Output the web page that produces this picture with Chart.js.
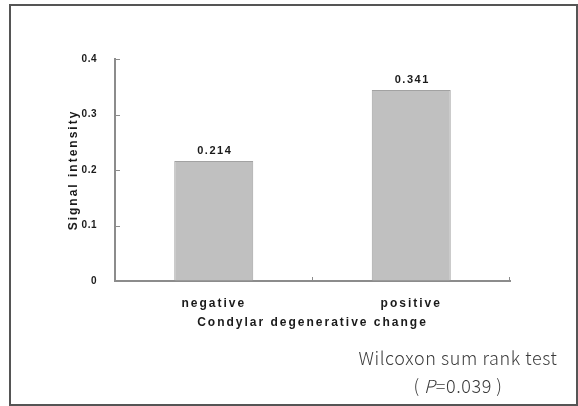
<!DOCTYPE html>
<html>
<head>
<meta charset="utf-8">
<script src="https://cdn.jsdelivr.net/npm/chart.js@4"></script>
<style>
  html, body { margin: 0; padding: 0; background: #fff; }
  #wrap { position: relative; width: 578px; height: 406px; overflow: hidden; }
  #c { position: absolute; left: 0; top: 0; }
  .note { position: absolute; font-family: "Noto Sans CJK KR", "Noto Sans", sans-serif; font-weight: 300; font-size: 18px; letter-spacing: 0.6px; color: #3a3a3a; white-space: nowrap; text-align: center; width: 260px; left: 328px; }
</style>
</head>
<body>
<div id="wrap">
  <canvas id="c" width="578" height="406"></canvas>
  <div class="note" style="top:344px;">Wilcoxon sum rank test</div>
  <div class="note" style="top:372px;">(&thinsp;<i>P</i>=0.039&thinsp;)</div>
</div>
<script>
// ---- data ----
const categories = ['negative', 'positive'];
const signalValues = [0.216, 0.344];
const valueLabels = ['0.214', '0.341'];
const yTicks = [0, 0.1, 0.2, 0.3, 0.4];
const xTitle = 'Condylar degenerative change';
const yTitle = 'Signal intensity';

const TEXT = '#1a1a1a';
const AXIS = '#8c8c8c';
const SPACING = '2px';
const FONT = '"Liberation Sans", Arial, sans-serif';

const decorPlugin = {
  id: 'decor',
  beforeUpdate(chart) { chart.ctx.letterSpacing = SPACING; },
  beforeDraw(chart) {
    const ctx = chart.ctx;
    ctx.letterSpacing = SPACING;
    const y = chart.scales.y;
    if (y && !y._wrappedLabels) {
      const orig = y.drawLabels;
      y.drawLabels = function (ca) {
        const c = this.ctx;
        const prev = c.letterSpacing;
        c.letterSpacing = '0.5px';
        orig.call(this, ca);
        c.letterSpacing = prev;
      };
      y._wrappedLabels = true;
    }
  },
  afterDatasetsDraw(chart) {
    const ctx = chart.ctx;
    const meta = chart.getDatasetMeta(0);
    ctx.save();
    ctx.letterSpacing = '1.5px';
    ctx.font = 'bold 11px ' + FONT;
    ctx.fillStyle = TEXT;
    ctx.textAlign = 'center';
    ctx.textBaseline = 'middle';
    meta.data.forEach((bar, i) => {
      ctx.fillText(valueLabels[i], bar.x + 1, bar.y - 10);
    });
    ctx.restore();
  },
  afterDraw(chart) {
    const ctx = chart.ctx;
    const area = chart.chartArea;
    const y = chart.scales.y, x = chart.scales.x;
    ctx.save();
    ctx.strokeStyle = AXIS;
    ctx.lineWidth = 1;
    y.ticks.forEach(t => {
      const py = Math.round(y.getPixelForValue(t.value)) + 0.5;
      ctx.beginPath();
      ctx.moveTo(area.left, py);
      ctx.lineTo(area.left + 5, py);
      ctx.stroke();
    });
    const bounds = [];
    for (let i = 0; i < categories.length - 1; i++) {
      bounds.push((x.getPixelForValue(i) + x.getPixelForValue(i + 1)) / 2);
    }
    bounds.push(area.right);
    bounds.forEach(bx => {
      const px = Math.round(bx) - 0.5;
      ctx.beginPath();
      ctx.moveTo(px, area.bottom);
      ctx.lineTo(px, area.bottom - 4);
      ctx.stroke();
    });
    ctx.strokeStyle = '#555';
    ctx.lineWidth = 2;
    ctx.strokeRect(10, 5, 567, 400);
    ctx.restore();
  }
};

new Chart(document.getElementById('c'), {
  type: 'bar',
  data: {
    labels: categories,
    datasets: [{
      data: signalValues,
      backgroundColor: '#c0c0c0',
      borderColor: '#a2a2a2',
      borderWidth: 1,
      categoryPercentage: 0.4,
      barPercentage: 1.0
    }]
  },
  options: {
    responsive: false,
    animation: false,
    devicePixelRatio: 1,
    layout: { padding: { top: 59, right: 68, bottom: 65, left: 60 } },
    plugins: { legend: { display: false }, tooltip: { enabled: false } },
    scales: {
      x: {
        grid: { display: true, drawOnChartArea: false, drawTicks: false, offset: true, color: 'transparent' },
        border: { display: true, color: AXIS, width: 2 },
        ticks: { color: TEXT, padding: 15, font: { family: FONT, size: 12, weight: 'bold' } },
        title: { display: true, text: xTitle, color: TEXT, padding: { top: 0, bottom: 11 }, font: { family: FONT, size: 12, weight: 'bold' } },
        afterFit(s) { s.height = 60; }
      },
      y: {
        min: 0, max: 0.4,
        afterBuildTicks(s) { s.ticks = yTicks.map(v => ({ value: v })); },
        grid: { display: true, drawOnChartArea: false, drawTicks: false, color: 'transparent' },
        border: { display: true, color: AXIS, width: 2 },
        ticks: { color: TEXT, padding: 18, font: { family: FONT, size: 10, weight: 'bold' } },
        title: { display: true, text: yTitle, color: TEXT, padding: { top: 6, bottom: 0 }, font: { family: FONT, size: 12, weight: 'bold' } },
        afterFit(s) { s.width = 55; }
      }
    }
  },
  plugins: [decorPlugin]
});
</script>
</body>
</html>
